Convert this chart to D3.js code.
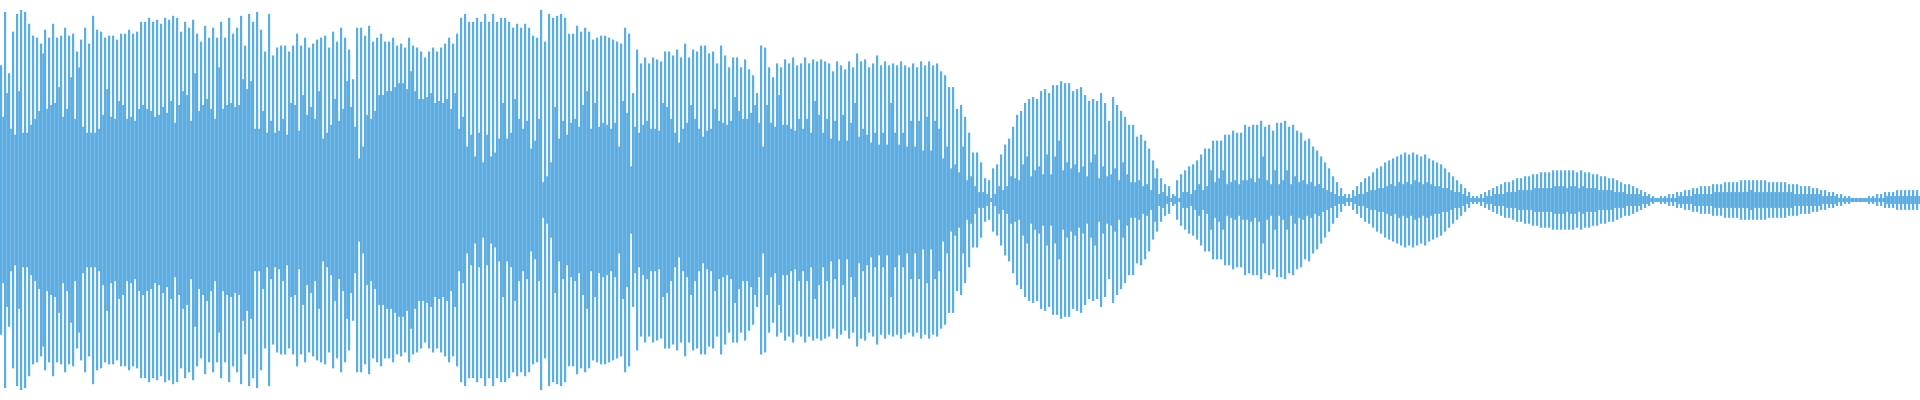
<!DOCTYPE html>
<html>
<head>
<meta charset="utf-8">
<script src="https://cdn.jsdelivr.net/npm/d3@7"></script>
<style>
  html, body { margin: 0; padding: 0; background: #ffffff; }
  #wave { display: block; }
</style>
</head>
<body>
<div id="wave"></div>
<script>
// Signal amplitude (% of full scale), one pair per 4px slice of the recording.
// "peak" = tallest swing inside the slice, "dip" = shortest swing inside the slice.
const peakSeg1 = [68,95,64,85,94,96,95,89,83,82,79,86,82,89,82,83,87,83,84,75,81,87,79,93,86,85,82,83,83,81,84,84,86,84,85,90,90,92,90,91,
                  89,92,91,93,92,85,90,87,91,84,80,88,82,87,82,90,82,92,84,87,93,78,94,90,95,86,75,94,73,77,78,78,75,78,84,78,82,77,79,81];
const dipSeg1  = [42,54,36,33,55,34,34,38,41,45,74,46,48,49,57,42,46,62,41,67,37,34,34,34,36,43,56,42,41,50,48,41,42,40,46,48,46,45,42,43,
                  47,44,50,39,48,55,53,40,64,45,48,51,46,41,67,46,48,49,47,48,61,56,60,36,36,45,34,40,34,35,41,33,49,48,35,53,43,47,41,55];

const peakSeg2 = [82,83,77,85,80,87,82,76,61,87,87,83,88,80,82,84,80,80,82,78,79,77,82,78,77,75,72,75,77,75,77,79,82,79,84,92,94,90,90,92,
                  90,94,90,94,90,92,92,90,87,89,87,89,87,83,82,96,80,94,92,93,94,92,84,84,88,85,87,85,81,82,83,83,82,81,80,79,87,84,54,76];
const dipSeg2  = [31,34,38,51,40,46,60,47,37,21,27,43,41,45,53,53,55,55,57,59,59,56,65,55,51,51,52,54,49,50,49,51,46,54,36,42,27,33,22,34,
                  19,33,22,24,31,49,31,34,51,41,36,40,26,30,41,9,12,19,47,31,40,33,39,41,37,48,55,36,49,37,39,38,36,39,27,50,44,17,37,34];

const peakSeg3 = [69,72,69,72,71,70,75,75,73,76,72,79,72,76,75,78,78,74,75,69,78,73,67,72,72,67,71,66,63,54,78,77,67,62,69,67,71,69,72,68,
                  69,72,69,71,70,71,70,69,65,70,68,66,70,67,74,70,71,67,69,73,68,70,68,69,68,70,68,67,69,67,70,68,70,68,69,65,63,57,57,46];
const dipSeg3  = [38,40,36,36,35,49,47,41,34,29,36,39,48,41,36,32,35,36,46,40,39,38,40,52,45,41,41,44,48,39,27,48,39,37,53,38,38,36,35,41,
                  36,41,34,50,43,34,41,31,40,30,43,30,39,49,32,36,33,29,34,28,34,28,49,34,28,34,27,40,27,40,25,42,25,40,36,21,27,16,18,14];

const peakSeg4 = [48,42,34,24,24,19,11,10,16,18,23,28,31,37,43,45,49,51,52,51,55,56,54,58,58,60,59,59,55,56,57,53,50,51,50,54,49,40,52,48,
                  45,42,38,38,32,33,30,26,20,16,11,8,7,3,10,13,15,17,18,20,23,26,26,30,30,30,33,33,35,34,34,38,37,38,38,40,37,38,35,39];
const dipSeg4  = [27,10,12,7,4,4,3,1,3,7,5,7,12,11,10,18,22,12,15,17,13,23,13,22,30,15,19,16,18,14,17,12,19,23,11,17,12,13,16,10,
                  19,13,9,9,10,7,8,5,11,3,4,2,1,2,1,4,4,3,5,8,5,7,15,9,11,15,8,9,10,8,10,10,11,9,11,22,10,8,15,8];

const peakSeg5 = [39,40,37,38,35,34,30,31,27,25,22,19,16,12,9,6,3,
                  3,5,7,9,11,12,14,16,17,19,20,21,22,23,24,23,24,23,22,23,21,20,19,18,16,14,12,10,8,6,4,2,
                  2,3,4,5,6,7,8,9,9,10,11,11,12,12,13,13,14,14,14,15,15,15,15,15,15,14,15,14,14,13,13];
const dipSeg5  = [10,15,8,12,9,10,8,9,7,8,6,5,4,3,2,2,1,
                  1,2,3,3,4,5,5,6,6,7,8,7,9,8,9,8,10,9,8,9,8,7,7,6,6,5,4,4,3,2,1,1,
                  1,1,2,2,3,3,3,4,4,4,5,5,5,5,6,6,6,6,6,7,7,7,6,7,7,6,7,6,6,6,5];

const peakSeg6 = [12,12,11,11,10,9,8,8,7,6,5,4,3,2,
                  1,2,2,3,3,4,4,5,5,6,6,7,7,7,8,8,8,9,9,9,9,10,10,10,10,10,10,10,9,9,9,9,9,8,8,8,7,7,7,6,6,5,5,4,4,3,3,2,2,1,1,
                  1,1,2,2,3,3,4,4,4,5,5,5,5,5,5];
const dipSeg6  = [5,5,5,4,4,4,3,3,3,3,2,2,1,1,
                  1,1,1,1,1,2,2,2,2,3,3,3,3,3,4,4,4,4,4,4,4,4,4,5,4,4,4,4,4,4,4,4,4,4,3,3,3,3,3,3,3,2,2,2,2,1,1,1,1,1,1,
                  1,1,1,1,1,1,2,2,2,2,2,2,2,2,2];

const CONFIG = {
    width: 1920,
    height: 400,
    color: "#5dade2",
    peakShare: 0.55   // part of each slice drawn at peak height, the rest at dip height
};

function drawWave(peaks, dips, config) {
    const svg = d3.select("#wave")
        .append("svg")
        .attr("width", config.width)
        .attr("height", config.height)
        .style("background-color", "#ffffff");

    const x = d3.scaleLinear()
        .domain([0, peaks.length])
        .range([0, config.width]);

    const y = d3.scaleLinear()
        .domain([-100, 100])
        .range([config.height - 2, 2]);

    const step = x(1) - x(0);
    const slices = peaks.map((p, i) => ({ i, peak: p, dip: Math.min(dips[i], p) }));

    const g = svg.append("g").attr("fill", config.color);

    // tall strokes
    g.selectAll("rect.peak")
        .data(slices)
        .join("rect")
        .attr("class", "peak")
        .attr("x", d => x(d.i))
        .attr("width", step * config.peakShare)
        .attr("y", d => y(d.peak))
        .attr("height", d => Math.max(1, y(-d.peak) - y(d.peak)));

    // short strokes between them (they make the white slits)
    g.selectAll("rect.dip")
        .data(slices)
        .join("rect")
        .attr("class", "dip")
        .attr("x", d => x(d.i) + step * config.peakShare)
        .attr("width", step * (1 - config.peakShare))
        .attr("y", d => y(d.dip))
        .attr("height", d => Math.max(1, y(-d.dip) - y(d.dip)));
}

const peaks = [].concat(peakSeg1, peakSeg2, peakSeg3, peakSeg4, peakSeg5, peakSeg6);
const dips = [].concat(dipSeg1, dipSeg2, dipSeg3, dipSeg4, dipSeg5, dipSeg6);

drawWave(peaks, dips, CONFIG);
</script>
</body>
</html>
